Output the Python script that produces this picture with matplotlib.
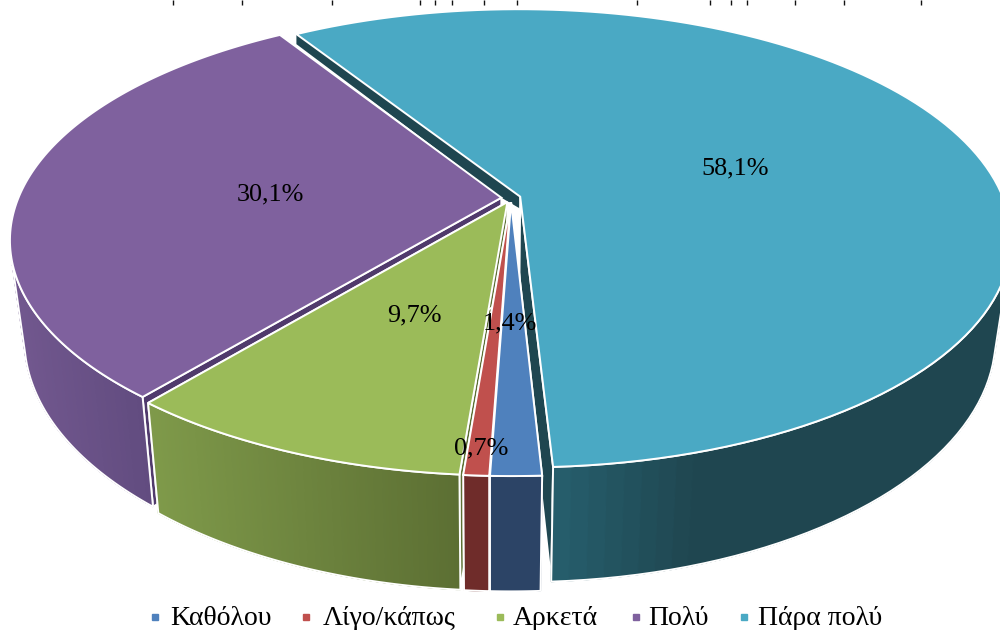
import numpy as np
import matplotlib
matplotlib.use("Agg")
import matplotlib.pyplot as plt
from matplotlib.colors import to_rgb

categories = ["Καθόλου", "Λίγο/κάπως", "Αρκετά", "Πολύ", "Πάρα πολύ"]
values = [1.4, 0.7, 9.7, 30.1, 58.1]
top_colors = ["#4F81BD", "#C0504D", "#9BBB59", "#7F619E", "#4AA9C4"]
side_left = ["#2C4466", "#6F2C2A", "#7F9A4A", "#72588F", "#27606F"]
side_right = ["#2C4466", "#6F2C2A", "#5C6F33", "#624C80", "#1F4650"]
wall_colors = ["#2C4466", "#6F2C2A", "#5C6F33", "#503A6C", "#1F4650"]
label_pos = [(510, 323), (481, 448), (414, 315), (270, 194), (735, 168)]
legend_marker_x = [155, 306, 500, 636, 744]
legend_text_x = [170, 323, 513, 648, 758]

# Stems of the cut off heading at the very top of the picture
heading_stems = [173, 242, 332, 420, 435, 452, 484, 517, 637, 710, 731, 747, 795, 844, 921]

# Perspective of the pie, in pixels
cx, cy = 511, 198
rx, ry = 483, 222
k = 0.182
explode = 0.02
first_angle = 177.0
shrink, vanish_x = 0.97, 490
drop, stretch = 82, 1.07


def project(X, Y):
    s = 1 / (1 + k * Y)
    return cx + rx * X * s, cy - ry * Y * s


def lower(x, y):
    return vanish_x + shrink * (x - vanish_x), drop + stretch * y


fig = plt.figure(figsize=(10, 6.3), dpi=100)
ax = fig.add_axes([0, 0, 1, 1])
ax.set_xlim(0, 1000)
ax.set_ylim(630, 0)
ax.axis("off")

# Work out every slice from the values
slices = []
start = first_angle
for v in values:
    span = v / sum(values) * 360
    t = np.radians(np.linspace(start, start + span, 120))
    mid = np.radians(start + span / 2)
    ox, oy = explode * np.sin(mid), explode * np.cos(mid)
    rim_x, rim_y = project(ox + np.sin(t), oy + np.cos(t))
    apex = project(ox, oy)
    slices.append((rim_x, rim_y, apex))
    start += span

white = dict(edgecolor="white", linewidth=1.4, joinstyle="miter")

# Dark band seen through the gap between the last two slices
rim_x, rim_y, apex = slices[4]
ax.fill([rim_x[0], apex[0], apex[0], slices[3][2][0], rim_x[0]],
        [rim_y[0], apex[1], apex[1] + 12, slices[3][2][1], rim_y[0] + 10],
        facecolor=wall_colors[4], edgecolor="none")

# Back to front, so that the nearer slices cover the walls behind them
cut_faces = [[0, -1], [0, -1], [0, -1], [0], [-1]]
for i in [4, 3, 2, 1, 0]:
    rim_x, rim_y, apex = slices[i]
    low_x, low_y = lower(rim_x, rim_y)
    low_apex = lower(*apex)

    for j in cut_faces[i]:
        ax.fill([apex[0], rim_x[j], low_x[j], low_apex[0]],
                [apex[1], rim_y[j], low_y[j], low_apex[1]],
                facecolor=wall_colors[i], **white)

    # outer wall, only the part that faces the viewer, shaded from left to right
    facing = np.diff(rim_x) * (low_y - rim_y)[:-1] - np.diff(rim_y) * (low_x - rim_x)[:-1] < 0
    idx = np.flatnonzero(facing)
    if len(idx):
        idx = np.arange(idx[0], idx[-1] + 2)
        c0, c1 = np.array(to_rgb(side_left[i])), np.array(to_rgb(side_right[i]))
        x_min, x_max = rim_x[idx].min(), rim_x[idx].max()
        gain = 3 if i == 4 else 1
        for n in idx[:-1]:
            f = min(1, gain * (rim_x[n] - x_min) / max(x_max - x_min, 1))
            col = c0 + (c1 - c0) * f
            m = min(n + 2, idx[-1])
            ax.fill([rim_x[n], rim_x[m], low_x[m], low_x[n]],
                    [rim_y[n], rim_y[m], low_y[m], low_y[n]],
                    facecolor=col, edgecolor=col, linewidth=0.8)
        ax.fill(np.r_[rim_x[idx], low_x[idx][::-1]], np.r_[rim_y[idx], low_y[idx][::-1]],
                facecolor="none", **white)

    # top face
    ax.fill(np.r_[apex[0], rim_x], np.r_[apex[1], rim_y], facecolor=top_colors[i], **white)

for v, (lx, ly) in zip(values, label_pos):
    ax.text(lx, ly, f"{v:.1f}%".replace(".", ","), ha="center", va="center",
            fontsize=18.8, family="Liberation Serif", color="black")

ax.vlines(heading_stems, 0, 5, color="#111111", linewidth=1)

# Legend row
for name, col, mx, tx in zip(categories, top_colors, legend_marker_x, legend_text_x):
    ax.plot([mx], [617], linestyle="none", marker="s", markersize=5, color=col)
    ax.text(tx, 625, name, ha="left", va="baseline", fontsize=20, family="Liberation Serif", color="black")

fig.savefig("out.png", dpi=100)
